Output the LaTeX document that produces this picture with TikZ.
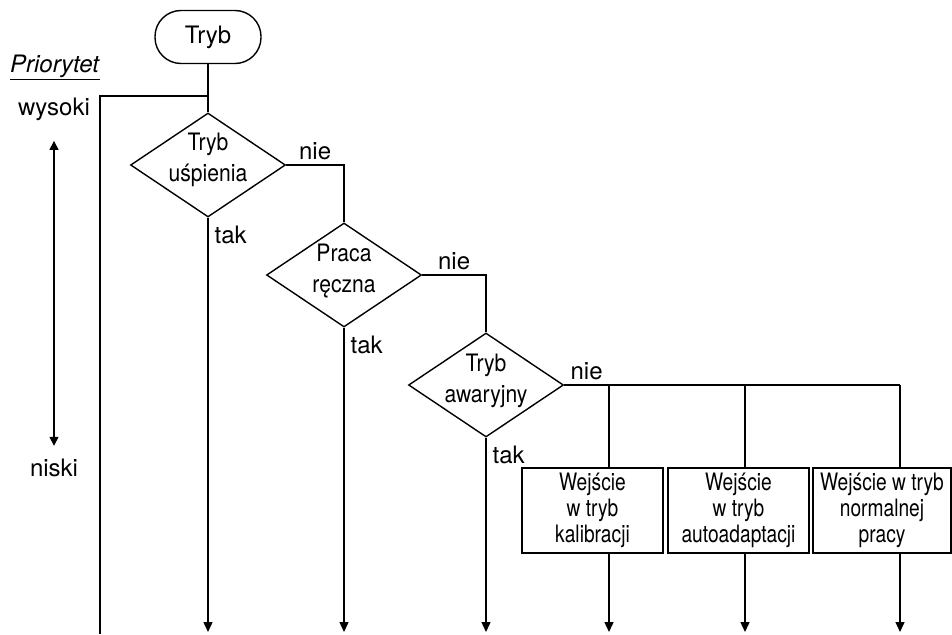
\documentclass[tikz,border=0pt]{standalone}
\usepackage{fontspec}
\setmainfont{TeX Gyre Heros}
\newfontfamily\narrowfont[FakeStretch=0.8]{TeX Gyre Heros}
\newfontfamily\diafont[FakeStretch=0.88]{TeX Gyre Heros}
\usepackage{tikz}
\usetikzlibrary{ shapes.geometric }
\usetikzlibrary{arrows.meta}

\begin{document}
\begin{tikzpicture} [
    x=1pt, y=-1pt,
    line width=1.4pt,
    every node/.style = {font=\fontsize{24}{30}\selectfont, inner sep=4pt},
    term/.style = {draw, rectangle, rounded corners=26pt, minimum width=106pt, minimum height=53pt},
    decision/.style = {draw, diamond, inner sep=0pt, minimum width=155pt, minimum height=104pt},
    dtext/.style = {align=center, inner sep=0pt, font=\fontsize{24}{31}\selectfont\diafont},
    modebox/.style = {draw, rectangle, align=center, inner sep=0pt, minimum height=85pt, font=\fontsize{24}{26}\selectfont\narrowfont},
    flow/.style = {-{Triangle[length=10pt, width=9pt]}},
    tak/.style = {at start, anchor=north west, xshift=2pt, yshift=-4pt}
]
    \useasboundingbox (0,0) rectangle (952,634);

    \node[term] (start) at (208,37) {Tryb};
    \node[decision] (d1) at (208,165) {};
    \node[dtext] (t1) at (208,160) {Tryb\\uśpienia};
    \node[decision] (d2) at (344,275) {};
    \node[dtext] (t2) at (344,271) {Praca\\ręczna};
    \node[decision] (d3) at (486,385) {};
    \node[dtext] (t3) at (486,381) {Tryb\\awaryjny};

    \node[modebox, minimum width=141pt] (b1) at (592.5,510.5) {Wejście\\w tryb\\kalibracji};
    \node[modebox, minimum width=141pt] (b2) at (738.5,510.5) {Wejście\\w tryb\\autoadaptacji};
    \node[modebox, minimum width=138pt] (b3) at (882,510.5) {Wejście w tryb\\normalnej\\pracy};

    \node[anchor=base] (prio) at (55,73) {\underline{\textit{Priorytet}}};
    \node[anchor=base, inner sep=0pt] (high) at (54,115) {wysoki};
    \node[anchor=base, inner sep=0pt] (low) at (54,476) {niski};

    \coordinate (split) at (208,96);
    \coordinate (left) at (100,634);
    \coordinate (bot) at (0,632);
    \coordinate (c1) at (609,385);
    \coordinate (c2) at (745,385);
    \coordinate (c3) at (900,385);

    \draw[{Triangle[length=9pt, width=9pt]}-{Triangle[length=9pt, width=9pt]}, shorten <=20pt, shorten >=12pt] (high) -- (low);

    \draw (start) -- (d1);
    \draw (split) -| (left);
    \draw (d1.east) -- node[above] (nie1) {nie} (d1.east -| d2.north) -- (d2.north);
    \draw (d2.east) -- node[above] (nie2) {nie} (d2.east -| d3.north) -- (d3.north);
    \draw (d3.east) -- node[above] (nie3) {nie} (c1) -- (c2) -- (c3);

    \draw[flow] (d1.south) -- node[tak] (tak1) {tak} (d1.south |- bot);
    \draw[flow] (d2.south) -- node[tak] (tak2) {tak} (d2.south |- bot);
    \draw[flow] (d3.south) -- node[tak] (tak3) {tak} (d3.south |- bot);

    \foreach \c/\b in {c1/b1, c2/b2, c3/b3} {
        \draw (\c) -- (\c |- \b.north);
        \draw[flow] (\c |- \b.south) -- (\c |- bot);
    }
\end{tikzpicture}
\end{document}
